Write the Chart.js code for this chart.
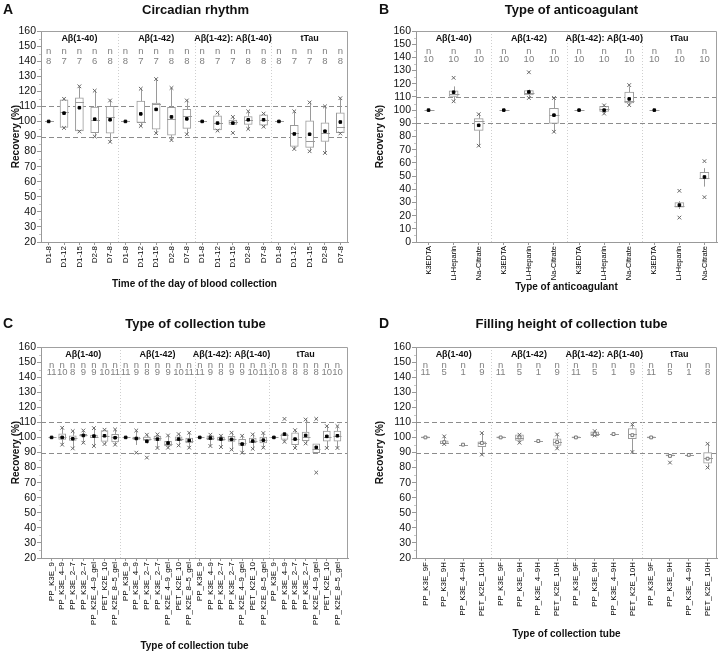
<!DOCTYPE html>
<html>
<head>
<meta charset="utf-8">
<script src="https://cdn.jsdelivr.net/npm/chart.js@4.4.0/dist/chart.umd.min.js"></script>
<style>
  body { margin: 0; background: #fff; width: 722px; height: 654px; position: relative; overflow: hidden; }
  canvas { position: absolute; }
</style>
</head>
<body>
<canvas id="chartA" width="361" height="312" style="left:0;top:0"></canvas>
<canvas id="chartB" width="361" height="312" style="left:361px;top:0"></canvas>
<canvas id="chartC" width="361" height="342" style="left:0;top:312px"></canvas>
<canvas id="chartD" width="361" height="342" style="left:361px;top:312px"></canvas>
<script>
const FONT = "'Liberation Sans', Arial, sans-serif";
Chart.defaults.font.family = FONT;

const groupNames = ['Aβ(1-40)', 'Aβ(1-42)', 'Aβ(1-42): Aβ(1-40)', 'tTau'];

// A - circadian rhythm
const circadianCats = ['D1-8', 'D1-12', 'D1-15', 'D2-8', 'D7-8'];
const circadianN = [8, 7, 7, 6, 8, 8, 7, 7, 8, 8, 8, 7, 7, 8, 8, 8, 7, 7, 8, 8];
const circadianQ1 = [100, 96, 93.7, 92.6, 92.2, 100, 99.3, 94.8, 90.9, 95.4, 100, 94.3, 98, 98, 97.6, 100, 83.5, 82.8, 86.7, 92.6];
const circadianQ3 = [100, 114.3, 115.6, 109.6, 110, 100, 113.5, 112.2, 109.3, 108, 100, 103.7, 100.9, 103.3, 104.3, 100, 97.4, 100.4, 99.1, 105.7];
const circadianMedian = [100, 106, 112.8, 100.7, 102.8, 100, 99.8, 111.5, 101.5, 103.9, 100, 99.1, 99.5, 100.7, 101.1, 100, 92.2, 87, 92.2, 96.3];
const circadianMean = [100, 105.5, 109.1, 101.5, 101.1, 100, 105, 108, 103, 101.7, 100, 98.9, 98.9, 101.1, 101.1, 100, 91.7, 91.5, 93.5, 99.6];
const circadianLo = [100, 95.7, 93.3, 90, 86.5, 100, 97, 92.2, 87.6, 91.5, 100, 93.9, 98, 95, 96.5, 100, 81.7, 80.2, 79.1, 92];
const circadianHi = [100, 115, 123.3, 120.4, 113.9, 100, 121.7, 128.1, 122.2, 113.9, 100, 105.9, 103, 106.7, 105.2, 100, 106.7, 112.6, 110, 115.4];
const circadianMin = [null, 95.7, 93.3, 90, 86.5, null, 97, 92.2, 87.6, 91.5, null, 93.9, 92.4, 95, 96.5, null, 81.7, 80.2, 79.1, 92];
const circadianMax = [null, 115, 123.3, 120.4, 113.9, null, 121.7, 128.1, 122.2, 113.9, null, 105.9, 103, 106.7, 105.2, null, 106.7, 112.6, 110, 115.4];

// B - anticoagulant
const anticoagCats = ['K3EDTA', 'Li-Heparin', 'Na-Citrate'];
const anticoagN = [10, 10, 10, 10, 10, 10, 10, 10, 10, 10, 10, 10];
const anticoagQ1 = [100, 110.3, 84.6, 100, 111.5, 90, 100, 99, 105.4, 100, 26.5, 47.8];
const anticoagQ3 = [100, 114.6, 93.6, 100, 114.9, 101.3, 100, 102.8, 113.6, 100, 29.8, 52.8];
const anticoagMedian = [100, 112.3, 91.8, 100, 113, 96.5, 100, 100.8, 107.2, 100, 27.2, 48.5];
const anticoagMean = [100, 113.6, 88.5, 100, 113.8, 96.2, 100, 100, 108.5, 100, 28, 49.3];
const anticoagLo = [100, 106.7, 73, 100, 109.2, 83.6, 100, 97.4, 103.8, 100, 25, 42];
const anticoagHi = [100, 118, 96.9, 100, 115.6, 109.2, 100, 103.6, 118, 100, 31, 56];
const anticoagMin = [null, 106.7, 73, null, 109.2, 83.6, null, 97.4, 103.8, null, 18.5, 34];
const anticoagMax = [null, 124.5, 96.9, null, 128.7, 109.2, null, 103.6, 119, null, 38.8, 61.3];

// C - collection tube
const tubeCats = ['PP_K3E_9', 'PP_K3E_4–9', 'PP_K3E_2–7', 'PP_K3E_2–7', 'PP_K2E_4–9_gel', 'PET_K2E_10', 'PP_K2E_8–5_gel'];
const tubeN = [11, 10, 8, 9, 9, 10, 11, 11, 9, 8, 9, 9, 10, 11, 11, 9, 8, 9, 9, 10, 11, 10, 8, 8, 8, 8, 10, 10];
const tubeQ1 = [100, 98.7, 98, 100.9, 99.8, 97.4, 97.1, 100, 98.7, 98, 98, 94.3, 97.8, 96.3, 100, 98.5, 98, 97.4, 94.7, 96.5, 96.3, 100, 98.7, 95.2, 97.8, 89.9, 97.6, 97.6];
const tubeQ3 = [100, 102.4, 101.1, 102, 101.5, 104.6, 102, 100, 100.2, 100.2, 100.9, 97.4, 100.4, 99.6, 100, 101.1, 100.2, 100.7, 98.7, 99.6, 100.2, 100, 102.4, 103.1, 103.5, 95.8, 104.2, 104.2];
const tubeMedian = [100, 100.2, 99.5, 101.5, 100.5, 100.9, 100.3, 100, 99.5, 99, 99.5, 95.5, 98.8, 97.8, 100, 99.8, 99, 99, 96, 97.8, 98, 100, 101.5, 99, 100.5, 92.5, 100.5, 101];
const tubeMean = [100, 100, 99.1, 101.3, 100.9, 101.1, 99.8, 100, 99.3, 97.4, 98.9, 96.3, 98.9, 98, 100, 99.6, 98.9, 98.7, 95.6, 97.6, 98.2, 100, 102.2, 98.9, 101.3, 93.4, 100.7, 101.1];
const tubeLo = [100, 95.2, 92.7, 96.5, 94.3, 95.6, 95.2, 100, 95, 96, 93, 93.2, 94.7, 93.2, 100, 94.3, 93.6, 91.9, 89.9, 92.5, 93.2, 100, 97.1, 93, 96, 89.9, 93, 93];
const tubeHi = [100, 106.4, 104.2, 104.6, 106.2, 105.1, 105.3, 100, 104.6, 101.8, 102, 101.3, 102.2, 103.1, 100, 101.8, 101.1, 103.1, 101.1, 102, 102.9, 100, 102.4, 104.8, 111.9, 95.8, 107.5, 107.5];
const tubeMin = [null, 95.2, 92.7, 96.5, 94.3, 95.6, 95.2, null, 89.9, 86.6, 93, 93.2, 94.7, 93.2, null, 94.3, 93.6, 91.9, 89.9, 92.5, 93.2, null, 97.1, 93, 96, 76.7, 93, 93];
const tubeMax = [null, 106.4, 104.2, 104.6, 106.2, 105.1, 105.3, null, 104.6, 101.8, 102, 101.3, 102.2, 103.1, null, 101.8, 101.1, 103.1, 101.1, 102, 102.9, null, 112.3, 104.8, 111.9, 112.3, 107.5, 107.5];

// D - filling height
const fillCats = ['PP_K3E_9F', 'PP_K3E_9H', 'PP_K3E_4–9H', 'PET_K2E_10H'];
const fillN = [11, 5, 1, 9, 11, 5, 1, 9, 11, 5, 1, 9, 11, 5, 1, 8];
const fillQ1 = [99.6, 95.8, 95.2, 93.8, 99.6, 98, 97.6, 94.7, 99.6, 101.1, 102.2, 99.1, 99.6, 87.8, 88.4, 82.9];
const fillQ3 = [100.4, 97.8, 95.2, 97.1, 100.4, 101.8, 97.6, 99.1, 100.4, 103.7, 102.2, 105.9, 100.4, 88.4, 88.4, 89.9];
const fillMedian = [100, 96.5, 95.2, 96, 100, 99.5, 97.6, 97, 100, 102, 102.2, 102, 100, 88.2, 88.4, 86.5];
const fillMean = [100, 96.9, 95.2, 96.3, 100, 100, 97.6, 96.9, 100, 102.2, 102.2, 101.5, 100, 87.7, 88.4, 85.9];
const fillLo = [99.6, 95.6, 95.2, 88.6, 99.6, 96.5, 97.6, 92.7, 99.6, 101.1, 102.2, 90.3, 99.6, 87.8, 88.4, 80];
const fillHi = [100.4, 100.7, 95.2, 102.9, 100.4, 101.8, 97.6, 102, 100.4, 104.2, 102.2, 108.6, 100.4, 88.4, 88.4, 95.8];
const fillMin = [null, 95.6, null, 88.6, null, 96.5, null, 92.7, null, 101.3, null, 90.3, null, 83.3, null, 80];
const fillMax = [null, 100.7, null, 102.9, null, 101.8, null, 102, null, 104.2, null, 108.6, null, null, null, 95.8];

const yTicks = [0, 10, 20, 30, 40, 50, 60, 70, 80, 90, 100, 110, 120, 130, 140, 150, 160];
const refLines = [90, 110];

function makePanel(id, cfg) {
  const labels = groupNames.flatMap(() => cfg.cats);
  const per = cfg.cats.length;
  const idx = labels.map((_, i) => i);
  const boxData = idx.map(i => ({ x: i, y: [cfg.q1[i], cfg.q3[i]] }));
  const meanData = idx.map(i => ({ x: i, y: cfg.mean[i] }));
  const markData = [];
  idx.forEach(i => {
    if (cfg.min[i] != null) markData.push({ x: i, y: cfg.min[i] });
    if (cfg.max[i] != null) markData.push({ x: i, y: cfg.max[i] });
  });

  const extras = {
    id: 'boxExtras',
    beforeDatasetsDraw(chart) {
      const { ctx, chartArea: a, scales: { x, y } } = chart;
      ctx.save();
      // reference lines at 90 and 110
      ctx.strokeStyle = '#8c8c8c';
      ctx.lineWidth = 1;
      ctx.setLineDash([5, 3]);
      refLines.forEach(v => {
        const py = Math.round(y.getPixelForValue(v)) + 0.5;
        ctx.beginPath(); ctx.moveTo(a.left, py); ctx.lineTo(a.right, py); ctx.stroke();
      });
      // group separators
      ctx.strokeStyle = '#cfcfcf';
      ctx.setLineDash([1, 2]);
      for (let g = 1; g < groupNames.length; g++) {
        const px = Math.round(x.getPixelForValue(g * per - 0.5)) + 0.5;
        ctx.beginPath(); ctx.moveTo(px, a.top); ctx.lineTo(px, a.bottom); ctx.stroke();
      }
      // minor ticks on the y axis
      ctx.setLineDash([]);
      ctx.strokeStyle = '#c4c4c4';
      yTicks.forEach(v => {
        const m = v + 5;
        if (m <= cfg.yMin || m >= 160) return;
        const py = Math.round(y.getPixelForValue(m)) + 0.5;
        ctx.beginPath(); ctx.moveTo(a.left - 2, py); ctx.lineTo(a.left, py); ctx.stroke();
      });
      ctx.restore();
    },
    afterDatasetDraw(chart, args) {
      if (args.index !== 0) return;
      const { ctx, scales: { x, y } } = chart;
      const hw = cfg.boxW / 2;
      ctx.save();
      ctx.strokeStyle = '#9a9a9a';
      ctx.lineWidth = 1;
      idx.forEach(i => {
        const px = Math.round(x.getPixelForValue(i)) + 0.5;
        ctx.beginPath();
        ctx.moveTo(px, y.getPixelForValue(cfg.q3[i])); ctx.lineTo(px, y.getPixelForValue(cfg.hi[i]));
        ctx.moveTo(px, y.getPixelForValue(cfg.q1[i])); ctx.lineTo(px, y.getPixelForValue(cfg.lo[i]));
        ctx.stroke();
        const my = Math.round(y.getPixelForValue(cfg.median[i])) + 0.5;
        ctx.beginPath(); ctx.moveTo(px - hw - 0.5, my); ctx.lineTo(px + hw + 0.5, my); ctx.stroke();
      });
      ctx.restore();
    },
    afterDraw(chart) {
      const { ctx, chartArea: a, scales: { x } } = chart;
      ctx.save();
      // plot frame (top and right)
      ctx.strokeStyle = '#a0a0a0';
      ctx.lineWidth = 1;
      ctx.beginPath();
      ctx.moveTo(a.left, a.top + 0.5); ctx.lineTo(a.right - 0.5, a.top + 0.5); ctx.lineTo(a.right - 0.5, a.bottom);
      ctx.stroke();
      // panel letter and title
      ctx.fillStyle = '#111';
      ctx.textBaseline = 'middle';
      ctx.textAlign = 'left';
      ctx.font = 'bold 14px ' + FONT;
      ctx.fillText(cfg.letter, cfg.letterX, cfg.titleY);
      ctx.textAlign = 'center';
      ctx.font = 'bold 13px ' + FONT;
      ctx.fillText(cfg.title, (a.left + a.right) / 2 + cfg.titleShift, cfg.titleY);
      // group names and n counts
      ctx.font = 'bold 9px ' + FONT;
      groupNames.forEach((g, k) => {
        const cx = x.getPixelForValue(k * per + (per - 1) / 2);
        ctx.fillText(g, cx, a.top + cfg.rows[0]);
      });
      ctx.fillStyle = '#808080';
      ctx.font = '9.5px ' + FONT;
      idx.forEach(i => {
        const px = x.getPixelForValue(i);
        ctx.fillText('n', px, a.top + cfg.rows[1]);
        ctx.fillText(String(cfg.n[i]), px, a.top + cfg.rows[2]);
      });
      ctx.restore();
    }
  };

  return new Chart(document.getElementById(id), {
    type: 'bar',
    data: {
      datasets: [
        { type: 'bar', data: boxData, backgroundColor: '#fff', borderColor: '#9a9a9a', borderWidth: 1,
          borderSkipped: false, barThickness: cfg.boxW, order: 3 },
        { type: 'scatter', data: markData, pointStyle: 'crossRot', radius: 2.6, borderColor: '#666',
          borderWidth: 1, order: 2 },
        { type: 'scatter', data: meanData, pointStyle: 'rect', radius: cfg.meanR,
          backgroundColor: cfg.meanFill, borderColor: cfg.meanBorder, borderWidth: 1, order: 1 }
      ]
    },
    options: {
      responsive: false,
      animation: false,
      layout: { padding: { top: cfg.padTop, right: cfg.padRight, left: 0, bottom: 0 } },
      plugins: { legend: { display: false }, tooltip: { enabled: false } },
      scales: {
        x: {
          type: 'linear',
          min: cfg.xMin, max: labels.length - 1 - cfg.xMin,
          offset: false,
          afterFit: s => { s.height = cfg.xAxisH; },
          afterBuildTicks: s => { s.ticks = idx.map(i => ({ value: i })); },
          ticks: {
            autoSkip: false, minRotation: 90, maxRotation: 90, padding: 1,
            color: '#000', font: { size: cfg.xTickSize },
            callback: v => labels[v]
          },
          grid: { drawOnChartArea: false, offset: false, tickLength: 3, tickColor: '#999' },
          border: { color: '#999' },
          title: { display: true, text: cfg.xTitle, color: '#111', font: { size: 10, weight: 'bold' },
            padding: { top: 2, bottom: cfg.xTitlePad } }
        },
        y: {
          min: cfg.yMin, max: 160,
          afterFit: s => { s.width = cfg.yAxisW; },
          afterBuildTicks: s => { s.ticks = yTicks.filter(v => v >= cfg.yMin).map(v => ({ value: v })); },
          ticks: { autoSkip: false, color: '#111', font: { size: 10.5 }, padding: 1 },
          grid: { drawOnChartArea: false, tickLength: 4, tickColor: '#999' },
          border: { color: '#999' },
          title: { display: true, text: 'Recovery (%)', color: '#111', font: { size: 10, weight: 'bold' },
            padding: { top: cfg.yTitlePad, bottom: 0 } }
        }
      }
    },
    plugins: [extras]
  });
}

makePanel('chartA', {
  letter: 'A', letterX: 3, title: 'Circadian rhythm', titleShift: 1, titleY: 10,
  cats: circadianCats, n: circadianN, q1: circadianQ1, q3: circadianQ3, median: circadianMedian,
  mean: circadianMean, lo: circadianLo, hi: circadianHi, min: circadianMin, max: circadianMax,
  xTitle: 'Time of the day of blood collection', yMin: 20, xMin: -0.5, xTickSize: 8,
  padTop: 31, padRight: 13, yAxisW: 41, xAxisH: 70, xTitlePad: 22, yTitlePad: 10,
  boxW: 8, meanR: 1.8, meanFill: '#000', meanBorder: '#000', rows: [8, 20, 30]
});

makePanel('chartB', {
  letter: 'B', letterX: 18, title: 'Type of anticoagulant', titleShift: 5, titleY: 10,
  cats: anticoagCats, n: anticoagN, q1: anticoagQ1, q3: anticoagQ3, median: anticoagMedian,
  mean: anticoagMean, lo: anticoagLo, hi: anticoagHi, min: anticoagMin, max: anticoagMax,
  xTitle: 'Type of anticoagulant', yMin: 0, xMin: -0.5, xTickSize: 7.5,
  padTop: 31, padRight: 1, yAxisW: 55, xAxisH: 70, xTitlePad: 19, yTitlePad: 13.5,
  boxW: 9, meanR: 1.8, meanFill: '#000', meanBorder: '#000', rows: [8, 20, 28]
});

makePanel('chartC', {
  letter: 'C', letterX: 3, title: 'Type of collection tube', titleShift: 1, titleY: 12,
  cats: tubeCats, n: tubeN, q1: tubeQ1, q3: tubeQ3, median: tubeMedian,
  mean: tubeMean, lo: tubeLo, hi: tubeHi, min: tubeMin, max: tubeMax,
  xTitle: 'Type of collection tube', yMin: 20, xMin: -1, xTickSize: 8,
  padTop: 35, padRight: 13, yAxisW: 41, xAxisH: 96, xTitlePad: 2, yTitlePad: 10,
  boxW: 7, meanR: 1.8, meanFill: '#000', meanBorder: '#000', rows: [8, 18, 25]
});

makePanel('chartD', {
  letter: 'D', letterX: 18, title: 'Filling height of collection tube', titleShift: 5, titleY: 12,
  cats: fillCats, n: fillN, q1: fillQ1, q3: fillQ3, median: fillMedian,
  mean: fillMean, lo: fillLo, hi: fillHi, min: fillMin, max: fillMax,
  xTitle: 'Type of collection tube', yMin: 20, xMin: -0.5, xTickSize: 8,
  padTop: 35, padRight: 1, yAxisW: 55, xAxisH: 96, xTitlePad: 14, yTitlePad: 13.5,
  boxW: 8, meanR: 2, meanFill: '#fff', meanBorder: '#777', rows: [8, 18, 25]
});
</script>
</body>
</html>
